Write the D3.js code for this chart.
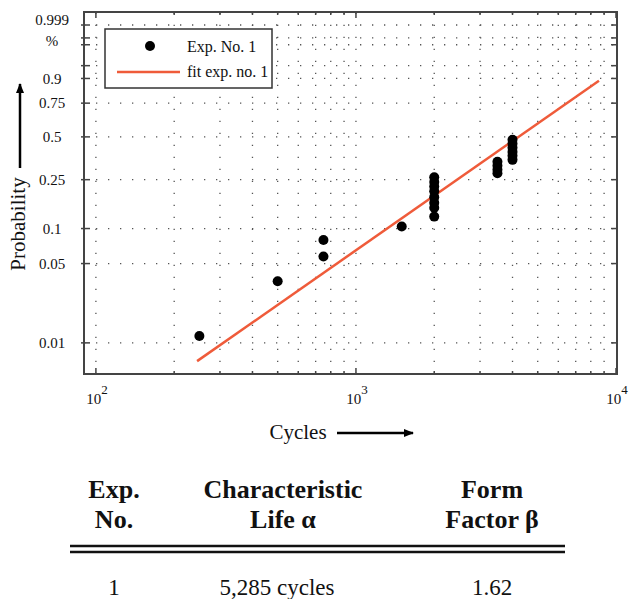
<!DOCTYPE html>
<html lang="en">
<head>
  <meta charset="UTF-8">
  <title>Weibull plot</title>
  <style>
    body { margin: 0; background: #fff; }
    text { font-family: "Liberation Serif", "Times New Roman", serif; fill: #111; }
  </style>
</head>
<body>
  <svg id="svg" width="629" height="599"></svg>
  <script src="https://d3js.org/d3.v7.min.js"></script>
  <script>
    // failure data (cycles, median rank)
    const failCycles = [250, 500, 750, 750, 1500,
      2000, 2000, 2000, 2000, 2000, 2000, 2000, 2000,
      3500, 3500, 3500, 3500,
      4000, 4000, 4000, 4000, 4000, 4000]
    const failProb = [0.0115, 0.035, 0.080, 0.0576, 0.104,
      0.261, 0.240, 0.221, 0.203, 0.182, 0.164, 0.149, 0.126,
      0.340, 0.318, 0.297, 0.280,
      0.479, 0.452, 0.425, 0.399, 0.375, 0.351]

    // fitted weibull
    const alpha = 5285
    const beta = 1.62
    const fitRange = [245, 8600]

    const yTicks = [0.01, 0.05, 0.1, 0.25, 0.5, 0.75, 0.9, 0.95, 0.99, 0.995, 0.999]
    const yLabels = [0.01, 0.05, 0.1, 0.25, 0.5, 0.75, 0.9, 0.999]
    const xDecades = [100, 1000, 10000]
    const xMinor = [200, 300, 400, 500, 600, 700, 800, 900, 2000, 3000, 4000, 5000, 6000, 7000, 8000, 9000]

    const tableHead = [['Exp.', 'No.'], ['Characteristic', 'Life \u03b1'], ['Form', 'Factor \u03b2']]
    const tableRow = ['1', '5,285 cycles', '1.62']

    const wb = p => Math.log(-Math.log(1 - p))

    const svg = d3.select('#svg')
    const L = 84, R = 617, T = 12, B = 374

    const x = d3.scaleLog().domain([90, 10000]).range([84, 616])
    const y = d3.scaleLinear().domain([-5.24, 2.2]).range([374, 12])

    const grid = svg.append('g')
      .attr('stroke', '#555')
      .attr('stroke-width', 1.3)
      .attr('stroke-dasharray', '1.3,10.7')

    // vertical dotted grid
    grid.selectAll('.vg')
      .data(xDecades.slice(0, 2).concat(xMinor))
      .enter()
      .append('line')
      .attr('x1', d => x(d)).attr('x2', d => x(d))
      .attr('y1', B).attr('y2', T)

    // horizontal dotted grid
    grid.selectAll('.hg')
      .data(yTicks)
      .enter()
      .append('line')
      .attr('x1', L).attr('x2', R)
      .attr('y1', d => y(wb(d))).attr('y2', d => y(wb(d)))

    const ticks = svg.append('g').attr('stroke', '#444').attr('stroke-width', 1.5)
    // y ticks, left & right
    ticks.selectAll('.yl').data(yTicks).enter().append('line')
      .attr('x1', L - 3).attr('x2', L + 6)
      .attr('y1', d => y(wb(d))).attr('y2', d => y(wb(d)))
    ticks.selectAll('.yr').data(yTicks).enter().append('line')
      .attr('x1', R - 6).attr('x2', R)
      .attr('y1', d => y(wb(d))).attr('y2', d => y(wb(d)))
    // x ticks, bottom & top
    ticks.selectAll('.xb').data(xDecades.concat(xMinor)).enter().append('line')
      .attr('x1', d => x(d)).attr('x2', d => x(d))
      .attr('y1', B).attr('y2', d => B - (xDecades.includes(d) ? 6 : 3))
    ticks.selectAll('.xt').data(xDecades.concat(xMinor)).enter().append('line')
      .attr('x1', d => x(d)).attr('x2', d => x(d))
      .attr('y1', T).attr('y2', d => T + (xDecades.includes(d) ? 6 : 3))

    // frame
    svg.append('rect')
      .attr('x', L).attr('y', T)
      .attr('width', R - L).attr('height', B - T)
      .attr('fill', 'none')
      .attr('stroke', '#444')
      .attr('stroke-width', 2)

    // y labels
    svg.selectAll('.ylab').data(yLabels).enter().append('text')
      .attr('x', 52)
      .attr('y', d => y(wb(d)) + (d === 0.999 ? -5 : 0))
      .attr('dy', '0.35em')
      .attr('text-anchor', 'middle')
      .attr('font-size', 15)
      .text(d => d)
    svg.append('text')
      .attr('x', 52).attr('y', y(wb(0.999)) + 16)
      .attr('dy', '0.35em')
      .attr('text-anchor', 'middle')
      .attr('font-size', 15)
      .text('%')

    // x labels 10^n
    const xl = svg.selectAll('.xlab').data(xDecades).enter().append('text')
      .attr('x', d => x(d) + 1)
      .attr('y', 404)
      .attr('text-anchor', 'middle')
      .attr('font-size', 15)
    xl.append('tspan').text('10')
    xl.append('tspan').attr('dy', -10).attr('font-size', 13).text(d => Math.round(Math.log10(d)))

    // fit line
    const line = d3.line().x(d => x(d)).y(d => y(beta * Math.log(d / alpha)))
    svg.append('path')
      .attr('d', line(fitRange))
      .attr('fill', 'none')
      .attr('stroke', '#ef5b3a')
      .attr('stroke-width', 2.5)

    // points
    svg.selectAll('circle')
      .data(failCycles.map((c, i) => ({ c, p: failProb[i] })))
      .enter()
      .append('circle')
      .attr('cx', d => x(d.c))
      .attr('cy', d => y(wb(d.p)))
      .attr('r', 5)
      .attr('fill', '#000')

    // legend
    const lg = svg.append('g')
    lg.append('rect').attr('x', 105).attr('y', 29).attr('width', 167).attr('height', 59)
      .attr('fill', '#fff').attr('stroke', '#333').attr('stroke-width', 1.5)
    lg.append('circle').attr('cx', 150).attr('cy', 46).attr('r', 5).attr('fill', '#000')
    lg.append('text').attr('x', 187).attr('y', 52).attr('font-size', 16).text('Exp. No. 1')
    lg.append('line').attr('x1', 117).attr('x2', 180).attr('y1', 72).attr('y2', 72)
      .attr('stroke', '#ef5b3a').attr('stroke-width', 2.5)
    lg.append('text').attr('x', 187).attr('y', 77).attr('font-size', 16).text('fit exp. no. 1')

    // axis titles with arrows
    svg.append('defs').append('marker')
      .attr('id', 'arr').attr('viewBox', '0 0 10 10')
      .attr('refX', 9).attr('refY', 5)
      .attr('markerWidth', 4).attr('markerHeight', 4)
      .attr('orient', 'auto')
      .append('path').attr('d', 'M0,1 L10,5 L0,9 Z').attr('fill', '#000')

    svg.append('text').attr('x', 298).attr('y', 439)
      .attr('text-anchor', 'middle').attr('font-size', 21).text('Cycles')
    svg.append('line').attr('x1', 337).attr('x2', 413).attr('y1', 433).attr('y2', 433)
      .attr('stroke', '#000').attr('stroke-width', 2.5).attr('marker-end', 'url(#arr)')

    svg.append('text').attr('transform', 'translate(25,224) rotate(-90)')
      .attr('text-anchor', 'middle').attr('font-size', 21).text('Probability')
    svg.append('line').attr('x1', 20).attr('x2', 20).attr('y1', 168).attr('y2', 84)
      .attr('stroke', '#000').attr('stroke-width', 2.5).attr('marker-end', 'url(#arr)')

    // table
    const colX = [114, 283, 492]
    tableHead.forEach((h, i) => {
      h.forEach((s, j) => {
        svg.append('text').attr('x', colX[i]).attr('y', 498 + j * 30)
          .attr('text-anchor', 'middle').attr('font-size', 26).attr('font-weight', 'bold').text(s)
      })
    })
    svg.selectAll('.rule').data([546, 552]).enter().append('line')
      .attr('x1', 70).attr('x2', 565).attr('y1', d => d).attr('y2', d => d)
      .attr('stroke', '#111').attr('stroke-width', 2.5)
    tableRow.forEach((s, i) => {
      svg.append('text').attr('x', colX[i] - (i === 1 ? 6 : 0)).attr('y', 595)
        .attr('text-anchor', 'middle').attr('font-size', 23).text(s)
    })
  </script>
</body>
</html>
